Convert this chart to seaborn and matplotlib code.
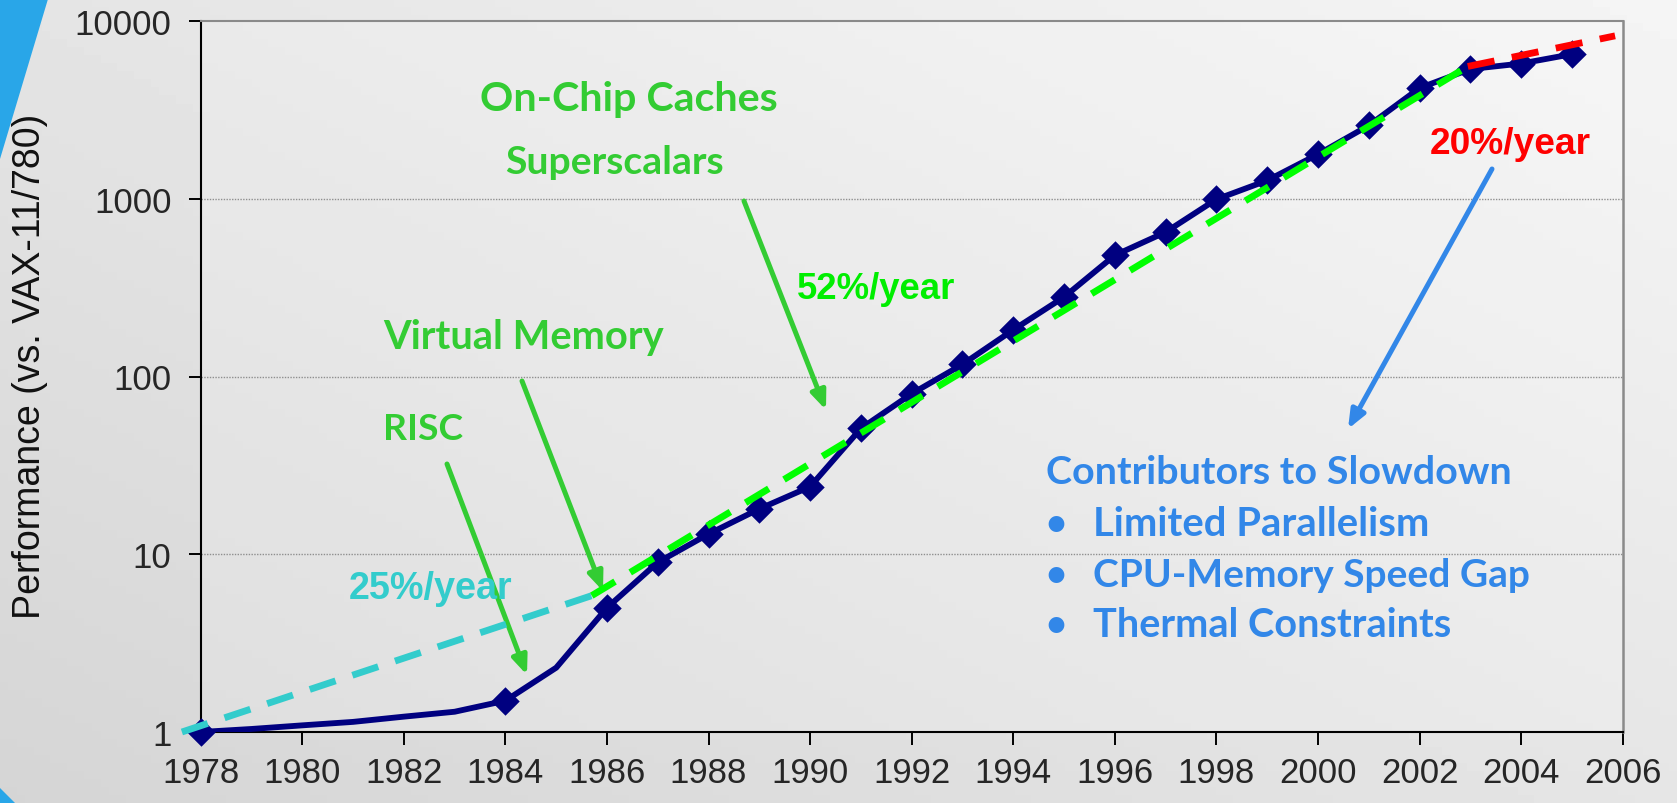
import numpy as np
import pandas as pd
import matplotlib
matplotlib.use("Agg")
import matplotlib.pyplot as plt
import seaborn as sns
from matplotlib.patches import Polygon

# ---------------- data ----------------
years = [1978, 1979, 1980, 1981, 1982, 1983, 1984, 1985, 1986, 1987, 1988, 1989,
         1990, 1991, 1992, 1993, 1994, 1995, 1996, 1997, 1998, 1999, 2000, 2001,
         2002, 2003, 2004, 2005]
performance = [1, 1.04, 1.09, 1.14, 1.22, 1.30, 1.5, 2.3, 5, 9, 13, 18,
               24, 51, 80, 117, 183, 280, 481, 649, 993, 1267, 1779, 2584,
               4195, 5364, 5764, 6505]
unmarked_years = [1979, 1980, 1981, 1982, 1983, 1985]

trend25_years = [1977.63, 1985.7]
trend25_perf = [1.0, 5.85]
trend52_years = [1985.7, 2002.95]
trend52_perf = [5.85, 5550]
trend20_years = [2002.95, 2005.85]
trend20_perf = [5550, 8250]

x_ticks = list(range(1978, 2007, 2))
y_ticks = [1, 10, 100, 1000, 10000]
y_tick_labels = ["1", "10", "100", "1000", "10000"]
y_label = "Performance (vs. VAX-11/780)"

milestones = ["RISC", "Virtual Memory", "Superscalars", "On-Chip Caches"]
rate_labels = ["25%/year", "52%/year", "20%/year"]
slowdown_title = "Contributors to Slowdown"
slowdown_items = ["Limited Parallelism", "CPU-Memory Speed Gap", "Thermal Constraints"]

# ---------------- style ----------------
sns.set_style("white")
plt.rcParams["font.family"] = ["Liberation Sans", "DejaVu Sans"]

W_PX, H_PX = 1677, 804
fig = plt.figure(figsize=(W_PX / 100, H_PX / 100), dpi=100)


def px(x, y):
    return (x / W_PX, 1 - y / H_PX)


# background gradient
bg = fig.add_axes([0, 0, 1, 1], zorder=-10)
gx, gy = np.meshgrid(np.linspace(0, 1, 200), np.linspace(1, 0, 100))
grad = 0.835 + 0.065 * gx + 0.06 * gy
bg.imshow(grad, extent=[0, 1, 0, 1], aspect="auto", cmap="gray", vmin=0, vmax=1,
          origin="upper")
bg.add_patch(Polygon([px(0, 0), px(48, 0), px(0, 160)], closed=True,
                     facecolor="#29a6e8", edgecolor="none", transform=bg.transAxes))
bg.add_patch(Polygon([px(0, 789), px(15, 804), px(0, 804)], closed=True,
                     facecolor="#29a6e8", edgecolor="none", transform=bg.transAxes))
bg.set_xlim(0, 1)
bg.set_ylim(0, 1)
bg.axis("off")

L, R, T, B = 200.7, 1622.7, 22.0, 733.0
ax = fig.add_axes([L / W_PX, 1 - B / H_PX, (R - L) / W_PX, (B - T) / H_PX])
ax.set_facecolor((1, 1, 1, 0.18))

df = pd.DataFrame({"year": years, "perf": performance})
df["marked"] = ~df["year"].isin(unmarked_years)

navy = "#000080"
sns.lineplot(data=df, x="year", y="perf", ax=ax, color=navy, lw=4.2,
             estimator=None, sort=True, zorder=4)
ax.lines[-1].set_solid_joinstyle("round")
sns.scatterplot(data=df[df["marked"]], x="year", y="perf", ax=ax, marker="D",
                s=210, color=navy, linewidth=0, zorder=5, clip_on=False)

dash = (0, (4.0, 2.6))
for xs, ys, col in [(trend25_years, trend25_perf, "#33cccc"),
                    (trend52_years, trend52_perf, "#00ff00"),
                    (trend20_years, trend20_perf, "#ff0000")]:
    sns.lineplot(x=xs, y=ys, ax=ax, color=col, lw=4.9, estimator=None, zorder=6)
    ln = ax.lines[-1]
    ln.set_linestyle(dash)
    ln.set_clip_on(False)

ax.set_yscale("log")
ax.set_xlim(1978, 2006)
ax.set_ylim(1, 10000)
ax.set_xticks(x_ticks)
ax.set_xticklabels([str(t) for t in x_ticks])
ax.set_yticks(y_ticks)
ax.set_yticklabels(y_tick_labels)
ax.minorticks_off()
ax.tick_params(axis="x", direction="out", length=9, width=1.4, color="black",
               labelsize=25, pad=8, bottom=True)
ax.tick_params(axis="y", direction="out", length=9, width=1.4, color="black",
               labelsize=25, pad=12, left=True)
ax.set_xlabel("")
ax.set_ylabel("")
for v in [10, 100, 1000]:
    ax.axhline(v, color="#8f8f8f", lw=1.0, ls=(0, (1, 1)), zorder=1)
ax.spines["left"].set_color("black")
ax.spines["bottom"].set_color("black")
ax.spines["left"].set_linewidth(1.5)
ax.spines["bottom"].set_linewidth(1.5)
ax.spines["top"].set_color("#8a8a8a")
ax.spines["right"].set_color("#8a8a8a")
ax.spines["top"].set_linewidth(1.5)
ax.spines["right"].set_linewidth(1.8)

fig.text(*px(30, 366), y_label, rotation=90, ha="center", va="center",
         fontsize=27, color="#111111", family=["Liberation Sans"])

# ---------------- annotations ----------------
fig.canvas.draw()
renderer = fig.canvas.get_renderer()


def fit_text(s, x0, x1, yc, color, family, weight="bold", size0=28):
    t = fig.text(*px(x0, yc), s, ha="left", va="center", color=color,
                 family=family, fontweight=weight, fontsize=size0)
    w = t.get_window_extent(renderer).width
    t.set_fontsize(size0 * (x1 - x0) / w)
    return t


green_lbl = "#33cc33"
calibri = ["Lato", "DejaVu Sans"]
arial = ["Liberation Sans", "DejaVu Sans"]
fit_text(milestones[3], 480, 778, 99, green_lbl, calibri)
fit_text(milestones[2], 505, 723, 162, green_lbl, calibri)
fit_text(milestones[1], 383, 664, 338, green_lbl, calibri)
fit_text(milestones[0], 383, 463, 430, green_lbl, calibri)

fit_text(rate_labels[0], 349, 513, 589, "#33cccc", arial)
fit_text(rate_labels[1], 797, 955, 290, "#00ee00", arial)
fit_text(rate_labels[2], 1430, 1591, 144, "#ff0000", arial)

blue = "#3287e8"
fit_text(slowdown_title, 1046, 1511, 473, blue, calibri)
item_y = [525, 576, 626]
item_right = [1429, 1530, 1450]
for s, yc, xr in zip(slowdown_items, item_y, item_right):
    fig.text(*px(1056, yc), "\u2022", ha="center", va="center", color=blue,
             fontsize=26, family=calibri, fontweight="bold")
    fit_text(s, 1093, xr, yc, blue, calibri)


def arrow(start, tip, color):
    ax.annotate("", xy=px(*tip), xytext=px(*start), xycoords="figure fraction",
                textcoords="figure fraction", annotation_clip=False,
                arrowprops=dict(arrowstyle="-|>,head_length=1.1,head_width=0.45",
                                mutation_scale=10, color=color, lw=3.6,
                                shrinkA=0, shrinkB=0))


arrow((447, 465), (527, 676), green_lbl)
arrow((522, 382), (603, 592), green_lbl)
arrow((744, 202), (826, 411), green_lbl)
arrow((1492, 170), (1348, 430), blue)

fig.savefig("out.png", dpi=100)
